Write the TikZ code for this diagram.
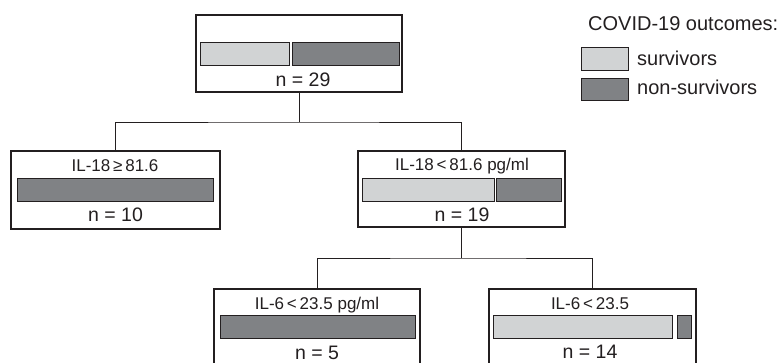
\documentclass[tikz,border=0pt]{standalone}
\usepackage{fontspec}
\setmainfont{Liberation Sans}
\definecolor{surv}{HTML}{D1D3D4}
\definecolor{nonsurv}{HTML}{808285}
\definecolor{ink}{HTML}{231F20}
\begin{document}
\begin{tikzpicture}[x=1pt,y=-1pt,
  box/.style={draw=ink, line width=2.4pt, fill=white, inner sep=0pt},
  barS/.style={draw=ink, line width=0.8pt, fill=surv, inner sep=0pt, minimum height=23pt},
  barN/.style={draw=ink, line width=0.8pt, fill=nonsurv, inner sep=0pt, minimum height=23pt},
  lab/.style={font=\fontsize{17}{17}\selectfont, inner sep=0pt, anchor=base, text=ink},
  nlab/.style={font=\fontsize{19.5}{20}\selectfont, inner sep=0pt, anchor=base, text=ink},
  leg/.style={font=\fontsize{20}{20}\selectfont, inner sep=0pt, anchor=base west, text=ink},
  conn/.style={draw=ink, line width=1pt}]
\useasboundingbox (0,0) rectangle (782,362);
\clip (0,0) rectangle (782,362);

% connectors
\coordinate (j1) at (299,122);
\coordinate (j2) at (461.5,258);
\draw[conn] (299,60) -- (j1);
\draw[conn] (115.5,160) |- (j1) -| (461.5,160);
\draw[conn] (461.5,200) -- (j2);
\draw[conn] (317,300) |- (j2) -| (592.5,300);

% boxes
\node[box, minimum width=206pt, minimum height=77pt] (root) at (299,53.5) {};
\node[box, minimum width=208.6pt, minimum height=77.6pt] (left) at (115.5,190) {};
\node[box, minimum width=206.6pt, minimum height=75.6pt] (mid) at (461.5,189) {};
\node[box, minimum width=205.6pt, minimum height=90pt] (bl) at (317,334.2) {};
\node[box, minimum width=206.6pt, minimum height=90pt] (br) at (592.5,334.2) {};

% bars
\node[barS, minimum width=88.3pt] (rootS) at (244.85,53.5) {};
\node[barN, minimum width=106.3pt] (rootN) at (345.85,53.5) {};
\node[barN, minimum width=196pt] (leftN) at (115,189.5) {};
\node[barS, minimum width=132pt] (midS) at (428,189.5) {};
\node[barN, minimum width=65pt] (midN) at (528.5,189.5) {};
\node[barN, minimum width=195pt] (blN) at (317.5,326.5) {};
\node[barS, minimum width=179pt] (brS) at (582.5,326.5) {};
\node[barN, minimum width=14pt] (brN) at (684,326.5) {};

% labels
\node[nlab] (nroot) at (303,86) {n = 29};
\node[lab] (tleft) at (115,171) {IL-18\,≥\,81.6};
\node[nlab] (nleft) at (115.5,221.5) {n = 10};
\node[lab] (tmid) at (462,170.5) {IL-18\,<\,81.6 pg/ml};
\node[nlab] (nmid) at (462,221.5) {n = 19};
\node[lab] (tbl) at (317,309.5) {IL-6\,<\,23.5 pg/ml};
\node[nlab] (nbl) at (317,359) {n = 5};
\node[lab] (tbr) at (590,309) {IL-6\,<\,23.5};
\node[nlab] (nbr) at (590,358.5) {n = 14};

% legend
\node[leg] (legt) at (588,30.7) {COVID-19 outcomes:};
\node[barS, minimum width=46.6pt, minimum height=22.7pt] (legS) at (605,58.6) {};
\node[barN, minimum width=46.6pt, minimum height=22.4pt] (legN) at (605,89.5) {};
\node[leg] (legSt) at (637,65) {survivors};
\node[leg] (legNt) at (637,94) {non-survivors};
\end{tikzpicture}
\end{document}
